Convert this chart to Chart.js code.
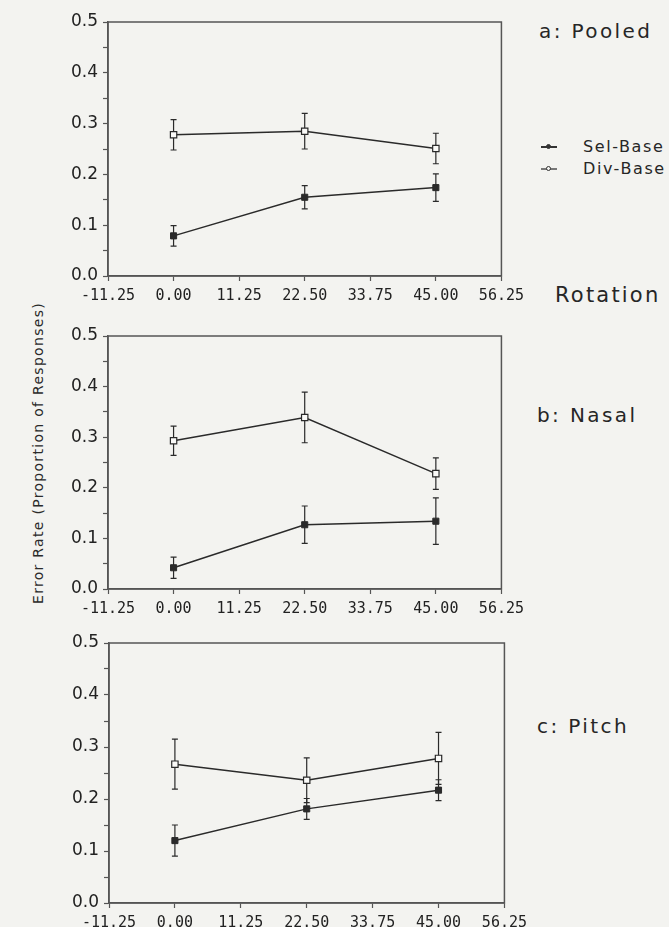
<!DOCTYPE html>
<html>
<head>
<meta charset="utf-8">
<script src="https://cdn.jsdelivr.net/npm/chart.js@4/dist/chart.umd.min.js"></script>
<style>
  body { margin: 0; width: 669px; height: 927px; overflow: hidden; background: #f3f3f0; position: relative;
         font-family: "DejaVu Sans", sans-serif; color: #262626; }
  canvas { position: absolute; }
  .lbl { position: absolute; white-space: nowrap; line-height: 1; }
  .panel { font-size: 20px; letter-spacing: 2.4px; }
  .leg { font-size: 16px; letter-spacing: 1.6px; }
  .key { position: absolute; height: 1.5px; background: #333; }
  .dot { position: absolute; width: 5px; height: 5px; border: 1px solid #333; box-sizing: border-box; }
</style>
</head>
<body>

<canvas id="pooled" width="470" height="310" style="left:60px;top:0px"></canvas>
<canvas id="nasal" width="470" height="309" style="left:60px;top:314px"></canvas>
<canvas id="pitch" width="472" height="316" style="left:61px;top:621px"></canvas>

<div class="lbl panel" style="left:539px;top:21px">a: Pooled</div>
<div class="lbl panel" style="left:555px;top:285px;font-size:21px;letter-spacing:2.2px">Rotation</div>
<div class="lbl panel" style="left:537px;top:405px">b: Nasal</div>
<div class="lbl panel" style="left:537px;top:716px">c: Pitch</div>

<div class="key" style="left:541px;top:146px;width:16px"></div>
<div class="dot" style="left:546px;top:144px;background:#333;border-radius:50%"></div>
<div class="lbl leg" style="left:583px;top:139px">Sel-Base</div>
<div class="key" style="left:541px;top:168px;width:16px;background:#777"></div>
<div class="dot" style="left:546px;top:166px;background:#f3f3f0;border-radius:50%"></div>
<div class="lbl leg" style="left:583px;top:161px">Div-Base</div>

<div class="lbl" style="left:38px;top:453px;font-size:14px;letter-spacing:1.3px;color:#2a2a2a;transform:translate(-50%,-50%) rotate(-90deg)">Error Rate (Proportion of Responses)</div>

<script>
// rotation angles (x) and tick settings
const rotations = [0, 22.5, 45];
const xTickMin = -11.25, xTickMax = 56.25, xTickStep = 11.25;
const yTickMin = 0, yTickMax = 0.5, yTickStep = 0.05;

// a: Pooled
const pooledSel = [0.079, 0.155, 0.174];
const pooledSelErr = [0.02, 0.023, 0.027];
const pooledDiv = [0.278, 0.285, 0.251];
const pooledDivErr = [0.03, 0.035, 0.03];

// b: Nasal
const nasalSel = [0.042, 0.127, 0.134];
const nasalSelErr = [0.021, 0.037, 0.046];
const nasalDiv = [0.293, 0.339, 0.228];
const nasalDivErr = [0.029, 0.05, 0.031];

// c: Pitch
const pitchSel = [0.12, 0.181, 0.217];
const pitchSelErr = [0.03, 0.02, 0.02];
const pitchDiv = [0.267, 0.236, 0.278];
const pitchDivErr = [0.048, 0.043, 0.05];

const ink = '#2a2a2a';
const axisColor = '#555';

// vertical error bars with caps, drawn under the markers
const errorBars = {
  id: 'errorBars',
  beforeDatasetsDraw(chart) {
    const { ctx, scales: { x, y } } = chart;
    ctx.save();
    ctx.strokeStyle = ink;
    ctx.lineWidth = 1.2;
    chart.data.datasets.forEach(ds => {
      ds.data.forEach((p, i) => {
        const e = ds.errors[i];
        const px = x.getPixelForValue(p.x);
        const top = y.getPixelForValue(p.y + e);
        const bot = y.getPixelForValue(p.y - e);
        ctx.beginPath();
        ctx.moveTo(px, top); ctx.lineTo(px, bot);
        ctx.moveTo(px - 3, top); ctx.lineTo(px + 3, top);
        ctx.moveTo(px - 3, bot); ctx.lineTo(px + 3, bot);
        ctx.stroke();
      });
    });
    ctx.restore();
  }
};

// closed frame round the plot area
const frame = {
  id: 'frame',
  afterDraw(chart) {
    const { ctx, chartArea: a } = chart;
    ctx.save();
    ctx.strokeStyle = axisColor;
    ctx.lineWidth = 1.5;
    ctx.strokeRect(a.left, a.top, a.right - a.left, a.bottom - a.top);
    ctx.restore();
  }
};

const toPoints = ys => rotations.map((x, i) => ({ x, y: ys[i] }));

function makePanel(id, sel, selErr, div, divErr) {
  new Chart(document.getElementById(id), {
    type: 'line',
    data: {
      datasets: [
        {
          label: 'Sel-Base',
          data: toPoints(sel),
          errors: selErr,
          borderColor: ink,
          borderWidth: 1.5,
          pointStyle: 'rect',
          pointRadius: 4.3,
          pointBackgroundColor: ink,
          pointBorderColor: ink,
          pointBorderWidth: 1
        },
        {
          label: 'Div-Base',
          data: toPoints(div),
          errors: divErr,
          borderColor: ink,
          borderWidth: 1.5,
          pointStyle: 'rect',
          pointRadius: 4.5,
          pointBackgroundColor: '#fafaf8',
          pointBorderColor: ink,
          pointBorderWidth: 1.2
        }
      ]
    },
    options: {
      responsive: false,
      animation: false,
      layout: { padding: { top: 22, right: 25, left: 0, bottom: 0 } },
      plugins: { legend: { display: false }, tooltip: { enabled: false } },
      scales: {
        x: {
          type: 'linear',
          min: xTickMin,
          max: xTickMax,
          afterFit: s => { s.height = 34; },
          ticks: {
            stepSize: xTickStep,
            autoSkip: false,
            maxRotation: 0,
            padding: 6,
            color: '#222',
            font: { family: 'DejaVu Sans Mono', size: 15 },
            callback: v => v.toFixed(2)
          },
          grid: { drawOnChartArea: false, tickLength: 5, color: axisColor, tickWidth: 1.2 },
          border: { color: axisColor, width: 1.5 }
        },
        y: {
          min: yTickMin,
          max: yTickMax,
          afterFit: s => { s.width = 48; },
          ticks: {
            stepSize: yTickStep,
            autoSkip: false,
            padding: 5,
            color: '#222',
            font: { family: 'DejaVu Sans', size: 17 },
            callback: v => (Math.round(v * 20) % 2 === 0 ? v.toFixed(1) : '')
          },
          grid: { drawOnChartArea: false, tickLength: 5, color: axisColor, tickWidth: 1.2 },
          border: { color: axisColor, width: 1.5 }
        }
      }
    },
    plugins: [errorBars, frame]
  });
}

makePanel('pooled', pooledSel, pooledSelErr, pooledDiv, pooledDivErr);
makePanel('nasal', nasalSel, nasalSelErr, nasalDiv, nasalDivErr);
makePanel('pitch', pitchSel, pitchSelErr, pitchDiv, pitchDivErr);
</script>
</body>
</html>
